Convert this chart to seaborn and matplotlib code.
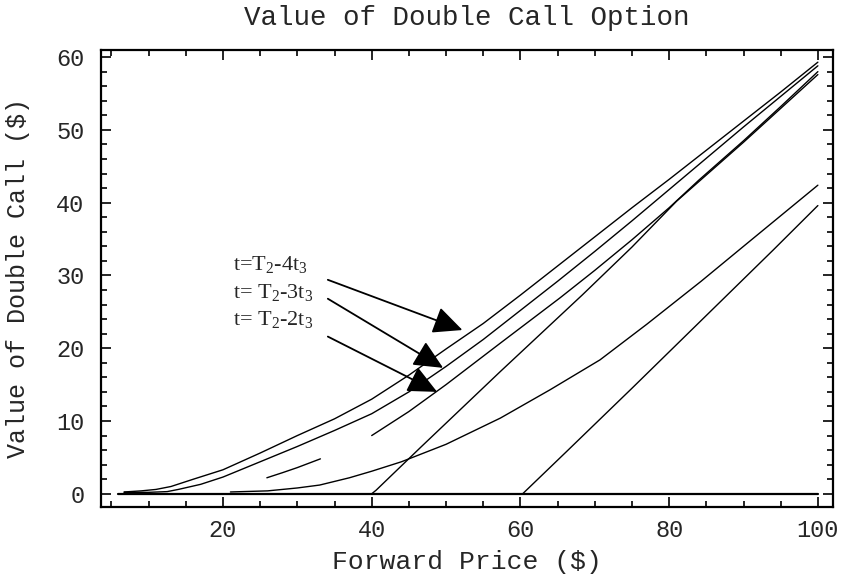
import pandas as pd
import matplotlib
matplotlib.use("Agg")
import matplotlib.pyplot as plt
from matplotlib.ticker import MultipleLocator
import seaborn as sns

# Curves (forward price, value)
baseline_x = [5.9, 100]
baseline_y = [0, 0]

c1_x = [6.7, 9, 11, 13, 16, 20, 25, 30, 35, 40, 45, 50, 55, 60, 65, 70, 75, 80, 85, 90, 95, 100]
c1_y = [0.25, 0.4, 0.6, 1.0, 2.0, 3.3, 5.6, 8.0, 10.3, 13.0, 16.3, 19.9, 23.4, 27.3, 31.3,
        35.3, 39.3, 43.2, 47.2, 51.2, 55.2, 59.3]

c2_x = [6.7, 10, 12.5, 14, 17, 20, 25, 30, 35, 40, 45, 50, 55, 60, 65, 70, 75, 80, 85, 90, 95, 100]
c2_y = [0.2, 0.2, 0.3, 0.6, 1.3, 2.3, 4.4, 6.5, 8.7, 11.0, 14.0, 17.5, 21.2, 25.2, 29.2,
        33.3, 37.5, 41.8, 46.1, 50.4, 54.6, 58.8]

d_x = [25.9, 28, 30, 33.1]
d_y = [2.2, 2.9, 3.6, 4.8]

e_x = [40, 45, 50, 57.3, 65.3, 70, 75, 80, 84, 90, 95, 100]
e_y = [8.0, 11.3, 15.0, 20.7, 26.9, 30.7, 34.9, 39.3, 43.1, 48.5, 53.2, 58.0]

f_x = [40, 40.6, 46.7, 57.3, 68.3, 75, 81, 90, 100]
f_y = [0, 0.5, 6.5, 16.8, 27.3, 33.9, 40.2, 48.3, 57.6]

g_x = [21, 26, 30, 33, 37, 40, 44, 50, 57.3, 64, 70.7, 77, 84.3, 90, 95, 100]
g_y = [0.25, 0.4, 0.8, 1.2, 2.2, 3.1, 4.4, 6.8, 10.4, 14.3, 18.4, 23.3, 29.2, 34.0, 38.2, 42.4]

h_x = [60.3, 66.2, 75, 84.1, 94, 100]
h_y = [0, 5.8, 14.5, 23.6, 33.5, 39.6]

labels = ["t=T$_2$-4t$_3$", "t= T$_2$-3t$_3$", "t= T$_2$-2t$_3$"]
label_x = 21.4
label_y = [31.5, 27.7, 23.9]
arrow_start = [(34.1, 29.4), (34.1, 26.8), (34.1, 21.6)]
arrow_tip = [(52.2, 22.5), (49.6, 17.3), (48.8, 14.0)]

pieces = {
    "c1": (c1_x, c1_y), "c2": (c2_x, c2_y), "d": (d_x, d_y), "e": (e_x, e_y),
    "f": (f_x, f_y), "g": (g_x, g_y), "h": (h_x, h_y),
}
df = pd.concat([pd.DataFrame({"x": xs, "y": ys, "piece": k}) for k, (xs, ys) in pieces.items()],
               ignore_index=True)
base_df = pd.DataFrame({"x": baseline_x, "y": baseline_y})

sns.set_style("ticks")
plt.rcParams["mathtext.fontset"] = "custom"
plt.rcParams["mathtext.rm"] = "Liberation Serif"
plt.rcParams["mathtext.it"] = "Liberation Serif"
mono = "Liberation Mono"

fig = plt.figure(figsize=(8.42, 5.86), dpi=100)
ax = fig.add_axes([0.12, 0.135, 0.869, 0.78])

sns.lineplot(data=base_df, x="x", y="y", color="black", linewidth=1.6, ax=ax)
sns.lineplot(data=df, x="x", y="y", units="piece", estimator=None, color="black",
             linewidth=1.0, sort=False, ax=ax)

ax.set_xlim(3.6, 102)
ax.set_ylim(-1.8, 61)
ax.xaxis.set_major_locator(MultipleLocator(20))
ax.xaxis.set_minor_locator(MultipleLocator(5))
ax.yaxis.set_major_locator(MultipleLocator(10))
ax.yaxis.set_minor_locator(MultipleLocator(2))
ax.tick_params(which="both", direction="in", top=True, right=True, color="black", width=1.2)
ax.tick_params(which="major", length=7, labelsize=17)
ax.tick_params(axis="x", which="major", pad=9)
ax.tick_params(axis="y", which="major", pad=12)
ax.tick_params(which="minor", length=4)
for lab in ax.get_xticklabels() + ax.get_yticklabels():
    lab.set_family(mono)
for s in ax.spines.values():
    s.set_linewidth(1.6)
    s.set_color("black")

ax.set_xlabel("Forward Price ($)", family=mono, fontsize=19)
ax.set_ylabel("Value of Double Call ($)", family=mono, fontsize=18)
ax.xaxis.set_label_coords(0.5, -0.095)
ax.yaxis.set_label_coords(-0.097, 0.5)
ax.text(0.5, 1.07, "Value of Double Call Option", transform=ax.transAxes, family=mono,
        fontsize=19.8, ha="center", va="center")

for lab, ly in zip(labels, label_y):
    ax.text(label_x, ly, lab, family="Liberation Serif", fontsize=16, ha="left", va="center")
for (sx, sy), (tx, ty) in zip(arrow_start, arrow_tip):
    ax.annotate("", xy=(tx, ty), xytext=(sx, sy),
                arrowprops=dict(arrowstyle="-|>,head_length=0.75,head_width=0.35",
                                mutation_scale=24, color="black", lw=1.3,
                                shrinkA=0, shrinkB=0))

fig.savefig("out.png", dpi=100)
